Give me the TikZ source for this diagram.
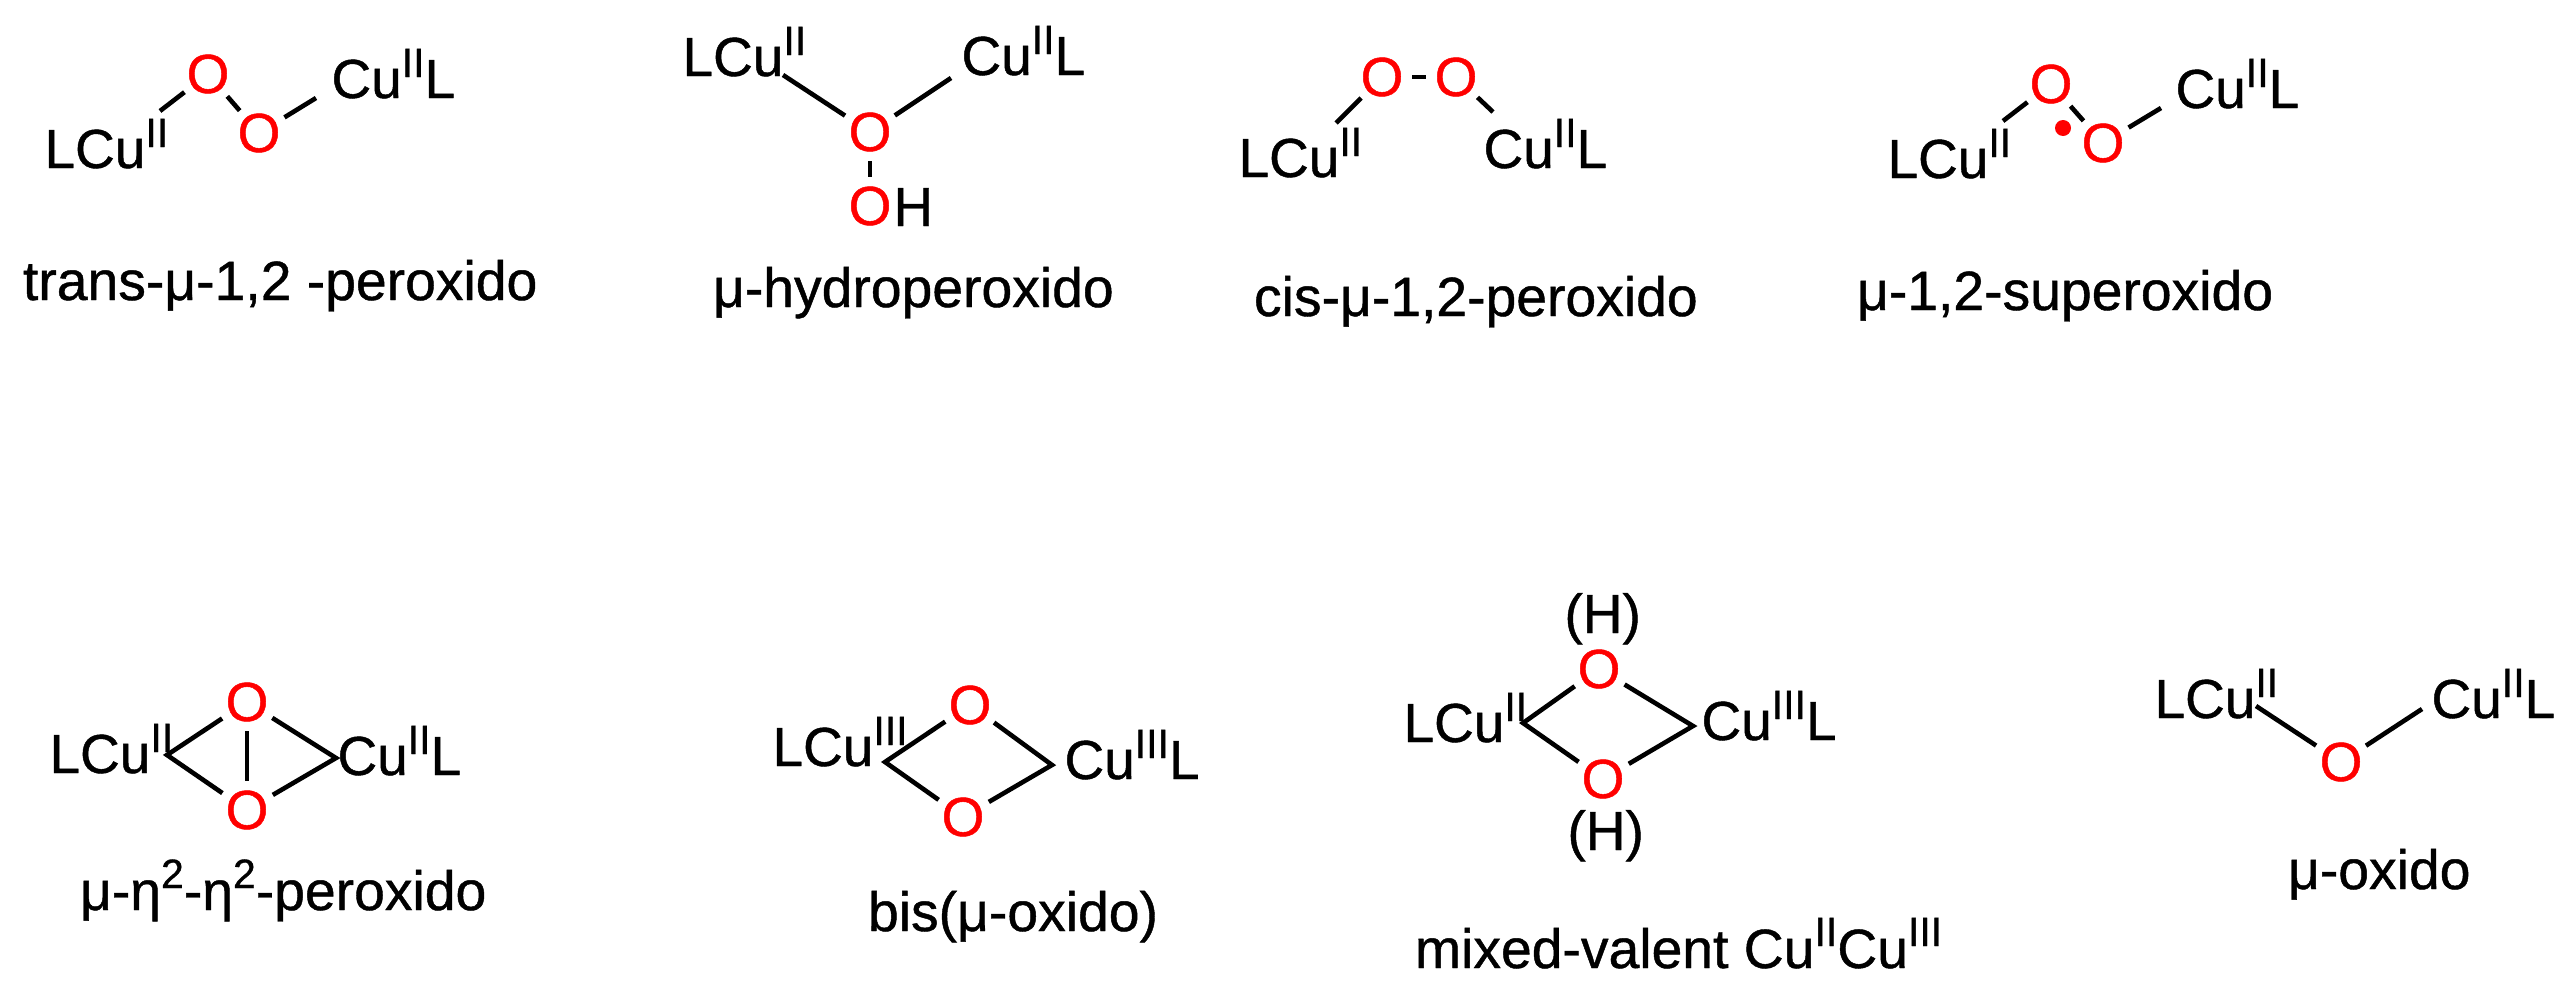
\documentclass[tikz,border=0pt]{standalone}
\usepackage{fontspec}
\setmainfont{Liberation Sans}[FakeBold=0.8]
\usetikzlibrary{shapes.geometric}
\newcommand{\supr}[1]{\raisebox{21pt}{\fontsize{41}{41}\selectfont #1}}
\newcommand{\capsup}[1]{\raisebox{22pt}{\fontsize{41}{41}\selectfont #1}}
\tikzset{
  chem/.style={anchor=base west,inner sep=0pt,outer sep=0pt,text=black,xshift=-1.5pt,font=\fontsize{55}{60}\selectfont},
  caplabel/.style={anchor=base west,inner sep=0pt,outer sep=0pt,text=black,xshift=2pt,font=\fontsize{55.3}{60}\selectfont},
  oxy/.style={ellipse,inner sep=0pt,outer sep=0pt,minimum width=54pt,minimum height=58pt,text=red,font=\fontsize{55}{60}\selectfont},
  bond/.style={draw=black,line width=4.6pt},
  radical/.style={circle,fill=red,inner sep=0pt,minimum size=16pt}
}
\begin{document}
\begin{tikzpicture}[x=1pt,y=-1pt]
\useasboundingbox (0,0) rectangle (2576,996);
% 1 trans
\node[chem] (a1) at (46,168) {LCu\supr{II}};
\node[chem] (a2) at (333,98) {Cu\supr{II}L};
\node[oxy] (aO1) at (208,74) {O};
\node[oxy] (aO2) at (259,133) {O};
\coordinate (ae1) at (160,111);
\coordinate (ae2) at (316,98);
\draw[bond] (ae1) -- (aO1);
\draw[bond] (aO1) -- (aO2);
\draw[bond] (aO2) -- (ae2);
\node[caplabel] (ac) at (21,300) {trans-μ-1,2 -peroxido};
% 2 hydroperoxido
\node[chem] (b1) at (684,76) {LCu\supr{II}};
\node[chem] (b2) at (963,75) {Cu\supr{II}L};
\node[oxy] (bO1) at (870,132) {O};
\node[oxy] (bO2) at (870,206) {O};
\node[chem] (bH) at (895,226) {H};
\coordinate (be1) at (783,75);
\coordinate (be2) at (951,78);
\draw[bond] (be1) -- (bO1);
\draw[bond] (be2) -- (bO1);
\draw[bond] (bO1) -- (bO2);
\node[caplabel] (bc) at (711,307) {μ-hydroperoxido};
% 3 cis
\node[chem] (c1) at (1240,177) {LCu\supr{II}};
\node[chem] (c2) at (1485,168) {Cu\supr{II}L};
\node[oxy] (cO1) at (1382,77) {O};
\node[oxy] (cO2) at (1456,77) {O};
\coordinate (ce1) at (1336,123);
\coordinate (ce2) at (1493,112);
\draw[bond] (ce1) -- (cO1);
\draw[bond] (cO1) -- (cO2);
\draw[bond] (cO2) -- (ce2);
\node[caplabel] (cc) at (1252,316) {cis-μ-1,2-peroxido};
% 4 superoxido
\node[chem] (d1) at (1889,178) {LCu\supr{II}};
\node[chem] (d2) at (2177,108) {Cu\supr{II}L};
\node[oxy] (dO1) at (2051,84) {O};
\node[oxy] (dO2) at (2103,143) {O};
\node[radical] (dr) at (2063,128) {};
\coordinate (de1) at (2003,121);
\coordinate (de2) at (2161,108);
\draw[bond] (de1) -- (dO1);
\draw[bond] (dO1) -- (dO2);
\draw[bond] (dO2) -- (de2);
\node[caplabel] (dc) at (1855,310) {μ-1,2-superoxido};
% 5 eta
\node[chem] (e1) at (51,773) {LCu\supr{II}};
\node[chem] (e2) at (339,775) {Cu\supr{II}L};
\node[oxy] (eO1) at (247,702) {O};
\node[oxy] (eO2) at (247,810) {O};
\coordinate (ev1) at (167,755);
\coordinate (ev2) at (336,758);
\draw[bond] (eO1) -- (ev1) -- (eO2);
\draw[bond] (eO1) -- (ev2) -- (eO2);
\draw[bond] (eO1) -- (eO2);
\node[caplabel] (ec) at (78,910) {μ-η\capsup{2}-η\capsup{2}-peroxido};
% 6 bis
\node[chem] (f1) at (774,766) {LCu\supr{III}};
\node[chem] (f2) at (1066,779) {Cu\supr{III}L};
\node[oxy] (fO1) at (970,705) {O};
\node[oxy] (fO2) at (963,817) {O};
\coordinate (fv1) at (885,762);
\coordinate (fv2) at (1052,765);
\draw[bond] (fO1) -- (fv1) -- (fO2);
\draw[bond] (fO1) -- (fv2) -- (fO2);
\node[caplabel] (fc) at (866,931) {bis(μ-oxido)};
% 7 mixed
\node[chem] (g1) at (1405,742) {LCu\supr{II}};
\node[chem] (g2) at (1703,740) {Cu\supr{III}L};
\node[oxy] (gO1) at (1599,669) {O};
\node[oxy] (gO2) at (1603,779) {O};
\node[chem] (gH1) at (1566,633) {(H)};
\node[chem] (gH2) at (1569,850) {(H)};
\coordinate (gv1) at (1523,723);
\coordinate (gv2) at (1693,726);
\draw[bond] (gO1) -- (gv1) -- (gO2);
\draw[bond] (gO1) -- (gv2) -- (gO2);
\node[caplabel] (gc) at (1413,968) {mixed-valent Cu\capsup{II}Cu\capsup{III}};
% 8 oxido
\node[chem] (h1) at (2156,718) {LCu\supr{II}};
\node[chem] (h2) at (2433,718) {Cu\supr{II}L};
\node[oxy] (hO) at (2341,762) {O};
\coordinate (he1) at (2256,706);
\coordinate (he2) at (2422,709);
\draw[bond] (he1) -- (hO);
\draw[bond] (he2) -- (hO);
\node[caplabel] (hc) at (2286,889) {μ-oxido};
\end{tikzpicture}
\end{document}
